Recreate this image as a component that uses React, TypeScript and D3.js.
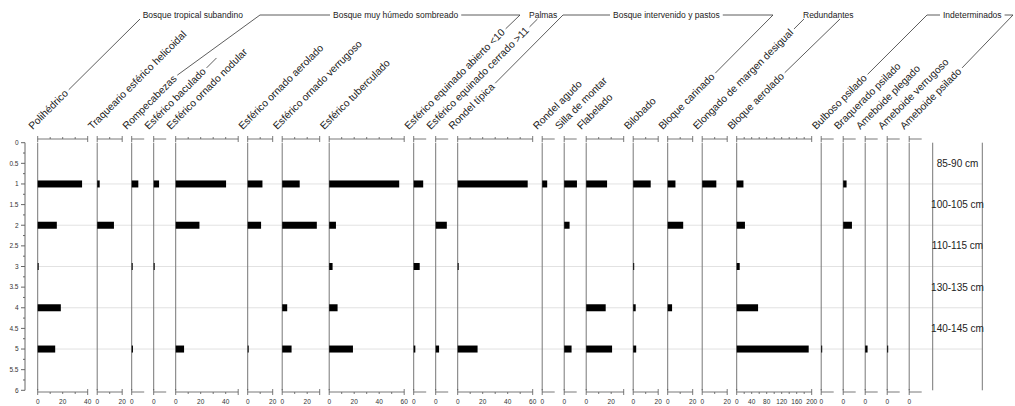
import React from "react";
import * as d3 from "d3";

// ---------- DATA ----------
const taxa = [
  "Polihédrico",
  "Traqueario esférico helicoidal",
  "Rompecabezas",
  "Esférico baculado",
  "Esférico ornado nodular",
  "Esférico ornado aerolado",
  "Esférico ornado verrugoso",
  "Esférico tuberculado",
  "Esférico equinado abierto <10",
  "Esférico equinado cerrado >11",
  "Rondel típica",
  "Rondel agudo",
  "Silla de montar",
  "Flabelado",
  "Bilobado",
  "Bloque carinado",
  "Elongado de margen desigual",
  "Bloque aerolado",
  "Bulboso psilado",
  "Braquerado psilado",
  "Ameboide plegado",
  "Ameboide verrugoso",
  "Ameboide psilado",
];

const axisMax = [40, 20, 10, 10, 50, 20, 30, 60, 10, 10, 60, 10, 10, 30, 20, 20, 20, 200, 10, 10, 10, 10, 10];

const sampleDepths = [1, 2, 3, 4, 5];

// one array per sample (depth 1..5), one value per taxon
const sample1 = [35.5, 2, 5.3, 4.3, 40.3, 11.8, 14, 56, 7.6, 0, 56, 4, 10.2, 16.7, 14, 6.2, 11.3, 18, 0, 2.7, 0, 0, 0];
const sample2 = [15.3, 13.4, 0, 0, 19, 10.7, 27.7, 5.4, 0, 8.9, 0, 0, 4.3, 0, 0, 12.4, 0, 22, 0, 7, 0, 0, 0];
const sample3 = [0.8, 0, 0.8, 0.8, 0, 0, 0, 2.7, 4.8, 0, 0.8, 0, 0, 0, 0.8, 0, 0, 8, 0, 0, 0, 0, 0];
const sample4 = [18.5, 0, 0, 0, 0, 0, 4, 6.7, 0, 0, 0, 0, 0, 15.6, 2, 3.5, 0, 57, 0, 0, 0, 0, 0];
const sample5 = [14, 0, 1, 0, 6.7, 0.8, 7.5, 19, 1.3, 2.7, 15.9, 0, 5.9, 20.7, 2.4, 0, 0, 192, 0.8, 0, 1.9, 0.8, 0];

const intervalLabels = ["85-90 cm", "100-105 cm", "110-115 cm", "130-135 cm", "140-145 cm"];
const intervalDepths = [0.5, 1.5, 2.5, 3.5, 4.5];

const groupNames = [
  "Bosque tropical subandino",
  "Bosque muy húmedo sombreado",
  "Palmas",
  "Bosque intervenido y pastos",
  "Redundantes",
  "Indeterminados",
];

// ---------- LAYOUT ----------
const W = 1015;
const H = 406;
const FONT = "'Liberation Sans', Arial, Helvetica, sans-serif";
const K = 1.25; // px per percent unit
const GAP = 9.5;
const X0 = 37.7;
const WIDE_PANEL = 17; // Bloque aerolado uses its own 0-200 scale
const WIDE_W = 75;
const TOP_AXIS_Y = 139;
const BOT_AXIS_Y = 392;
const LABEL_SIZE = 10.3;
const GROUP_SIZE = 8.5;
const HEADER_Y = 15;

// group header layout: label start x; connectors: [taxonIndex, topX | null]
const groupLayout = [
  { labelX: 142.7, left: [0, 140], right: null },
  { labelX: 333, left: [2, 260], right: [8, 520] },
  { labelX: 529, left: [9, null], right: null },
  { labelX: 613, left: [10, 563], right: [15, 773] },
  { labelX: 803, left: [16, null], right: [17, 840] },
  { labelX: 943, left: [18, 927], right: [22, 1013] },
];
const extraDash = [{ taxon: 3, len: 14 }];

let _ctx: CanvasRenderingContext2D | null = null;
function measure(text: string, size: number) {
  if (!_ctx) _ctx = document.createElement("canvas").getContext("2d");
  if (!_ctx) return text.length * size * 0.5;
  _ctx.font = `${size}px 'Liberation Sans'`;
  return _ctx.measureText(text).width;
}

export default function App() {
  const samples = [sample1, sample2, sample3, sample4, sample5];
  const y = d3.scaleLinear().domain([0, 6]).range([142.7, 390.3]);

  let cx = X0;
  const panels = taxa.map((name, i) => {
    const w = i === WIDE_PANEL ? WIDE_W : axisMax[i] * K;
    const scale = d3.scaleLinear().domain([0, axisMax[i]]).range([cx, cx + w]);
    const p = { name, i, x0: cx, w, scale, max: axisMax[i] };
    cx += w + GAP;
    return p;
  });
  const depthColX0 = cx + 1.5;
  const depthColX1 = depthColX0 + 49.6;

  const dir = [Math.SQRT1_2, -Math.SQRT1_2];
  const up = [-Math.SQRT1_2, -Math.SQRT1_2];
  const labelAnchor = (p: any) => [p.x0 - 5, 130];
  const labelEnd = (i: number) => {
    const p = panels[i];
    const [ax, ay] = labelAnchor(p);
    const wTxt = measure(p.name, LABEL_SIZE) + 3;
    return [ax + wTxt * dir[0] + 3 * up[0], ay + wTxt * dir[1] + 3 * up[1]];
  };

  const headerLines: { x1: number; y1: number; x2: number; y2: number }[] = [];
  groupLayout.forEach((g, gi) => {
    const lw = measure(groupNames[gi], GROUP_SIZE);
    const lStart = g.labelX - 3;
    const lEnd = g.labelX + lw + 3;
    const conn = (c: any, side: "l" | "r") => {
      if (!c) return;
      const [s0, s1] = labelEnd(c[0]);
      let tx: number, ty: number;
      if (c[1] === null) {
        ty = 19;
        tx = s0 + (s1 - ty);
      } else {
        tx = c[1];
        const needH = side === "l" ? tx < lStart - 1 : tx > lEnd + 1;
        ty = needH ? HEADER_Y : 19;
        if (needH) {
          if (side === "l") headerLines.push({ x1: tx, y1: HEADER_Y, x2: lStart, y2: HEADER_Y });
          else headerLines.push({ x1: lEnd, y1: HEADER_Y, x2: tx, y2: HEADER_Y });
        }
      }
      headerLines.push({ x1: s0, y1: s1, x2: tx, y2: ty });
    };
    conn(g.left, "l");
    conn(g.right, "r");
  });
  extraDash.forEach((d) => {
    const [s0, s1] = labelEnd(d.taxon);
    headerLines.push({ x1: s0, y1: s1, x2: s0 + d.len * dir[0], y2: s1 + d.len * dir[1] });
  });

  const yTicks = d3.range(0, 6.001, 0.25);

  return (
    <svg
      width={W}
      height={H}
      style={{ position: "absolute", left: 0, top: 0, background: "#fff", fontFamily: FONT }}
    >
      {/* gridlines */}
      {sampleDepths.map((d) => (
        <line key={"g" + d} x1={X0} x2={depthColX1} y1={y(d)} y2={y(d)} stroke="#e2e2e2" strokeWidth={1} />
      ))}

      {/* y axis */}
      <line x1={25} x2={25} y1={y(0)} y2={y(6)} stroke="#666" strokeWidth={1} />
      {yTicks.map((t) => {
        const major = Math.abs(t * 2 - Math.round(t * 2)) < 1e-6;
        return (
          <g key={"yt" + t}>
            <line x1={major ? 21 : 23} x2={25} y1={y(t)} y2={y(t)} stroke="#666" strokeWidth={1} />
            {major && (
              <text x={18.5} y={y(t)} dy="0.35em" fontSize={6.5} textAnchor="end" fill="#333">
                {String(t)}
              </text>
            )}
          </g>
        );
      })}

      {/* panels */}
      {panels.map((p) => {
        const step = p.max === 200 ? 20 : 10;
        const lstep = p.max === 200 ? 40 : 20;
        const ticks = p.max <= 10 ? [0] : d3.range(0, p.max + 0.001, step);
        return (
          <g key={p.name}>
            <line x1={p.x0} x2={p.x0} y1={y(0)} y2={y(6)} stroke="#777" strokeWidth={1} />
            {/* top axis */}
            <line x1={p.x0} x2={p.x0 + p.w} y1={TOP_AXIS_Y} y2={TOP_AXIS_Y} stroke="#555" strokeWidth={0.8} />
            {ticks.map((t) => {
              const major = t === 0 || t === p.max;
              return (
                <line
                  key={"tt" + t}
                  x1={p.scale(t)}
                  x2={p.scale(t)}
                  y1={TOP_AXIS_Y - (major ? 3 : 2)}
                  y2={TOP_AXIS_Y + (major ? 3 : 0)}
                  stroke="#555"
                  strokeWidth={0.8}
                />
              );
            })}
            {/* bottom axis */}
            <line x1={p.x0} x2={p.x0 + p.w} y1={BOT_AXIS_Y} y2={BOT_AXIS_Y} stroke="#555" strokeWidth={0.8} />
            {ticks.map((t) => {
              const major = t === 0 || t === p.max;
              return (
                <line
                  key={"bt" + t}
                  x1={p.scale(t)}
                  x2={p.scale(t)}
                  y1={BOT_AXIS_Y - (major ? 3 : 0)}
                  y2={BOT_AXIS_Y + (major ? 3 : 2)}
                  stroke="#555"
                  strokeWidth={0.8}
                />
              );
            })}
            {ticks
              .filter((t) => t % lstep === 0)
              .map((t) => (
                <text key={"bl" + t} x={p.scale(t)} y={401.5} fontSize={6.5} textAnchor="middle" dy="0.35em" fill="#333">
                  {t}
                </text>
              ))}
            {/* bars */}
            {samples.map((s, si) =>
              s[p.i] > 0 ? (
                <rect
                  key={"b" + si}
                  x={p.scale(0)}
                  y={y(sampleDepths[si]) - 3.5}
                  width={Math.max(1, p.scale(s[p.i]) - p.scale(0))}
                  height={7}
                  fill="#000"
                />
              ) : null
            )}
            {/* taxon label */}
            <text
              transform={`translate(${labelAnchor(p)[0]},${labelAnchor(p)[1]}) rotate(-45)`}
              fontSize={LABEL_SIZE}
              fill="#222"
            >
              {p.name}
            </text>
          </g>
        );
      })}

      {/* depth interval column */}
      <line x1={depthColX0} x2={depthColX0} y1={y(0)} y2={y(6)} stroke="#777" strokeWidth={1} />
      <line x1={depthColX1} x2={depthColX1} y1={y(0)} y2={y(6)} stroke="#777" strokeWidth={1} />
      {intervalLabels.map((l, i) => (
        <text
          key={l}
          x={(depthColX0 + depthColX1) / 2}
          y={y(intervalDepths[i])}
          dy="0.35em"
          fontSize={10}
          textAnchor="middle"
          fill="#222"
        >
          {l}
        </text>
      ))}

      {/* group headers */}
      {groupNames.map((g, gi) => (
        <text key={g} x={groupLayout[gi].labelX} y={HEADER_Y} dy="0.35em" fontSize={GROUP_SIZE} fill="#222">
          {g}
        </text>
      ))}
      {headerLines.map((l, i) => (
        <line key={"hl" + i} x1={l.x1} y1={l.y1} x2={l.x2} y2={l.y2} stroke="#333" strokeWidth={0.8} />
      ))}
    </svg>
  );
}
